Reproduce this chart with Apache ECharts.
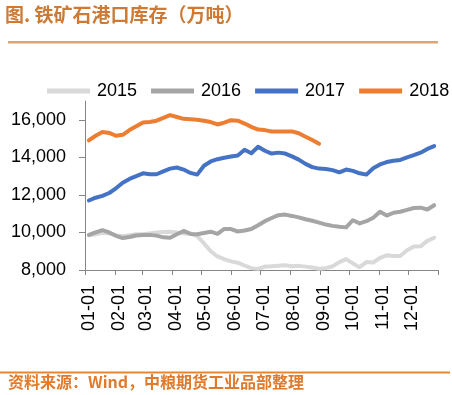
<!DOCTYPE html>
<html>
<head>
<meta charset="utf-8">
<script src="https://cdn.jsdelivr.net/npm/echarts@6/dist/echarts.min.js"></script>
<style>
html,body{margin:0;padding:0;background:#fff;}
#chart{width:452px;height:395px;}
</style>
</head>
<body>
<div id="chart"></div>
<script>
// Weekly observation dates as day-of-year (Jan 1 = 0)
const weekDays = [4,11,18,25,32,39,46,53,60,67,74,81,88,95,102,109,116,123,130,137,144,151,158,165,172,179,186,193,200,207,214,221,228,235,242,249,256,263,270,277,284,291,298,305,312,319,326,333,340,347,354,361];
const monthStartDays = [0,31,59,90,120,151,181,212,243,273,304,334,365];
const monthLabels = ['01-01','02-01','03-01','04-01','05-01','06-01','07-01','08-01','09-01','10-01','11-01','12-01'];
const yTicks = [8000,10000,12000,14000,16000];
const seriesNames = ['2015','2016','2017','2018'];

const v2015 = [9850,9900,9980,9950,9850,9800,9850,9900,9900,9950,10000,10030,10040,10000,9950,9950,9800,9420,9000,8720,8580,8460,8390,8240,8100,8060,8180,8200,8230,8250,8200,8220,8180,8130,8070,8100,8200,8420,8580,8350,8150,8420,8400,8650,8780,8740,8750,9050,9250,9260,9550,9720];
const v2016 = [9870,10000,10120,10000,9820,9700,9760,9840,9860,9870,9830,9740,9720,9900,10080,9920,9900,9970,10040,9920,10190,10180,10050,10100,10180,10380,10600,10770,10920,10950,10880,10800,10700,10620,10520,10420,10350,10300,10270,10650,10480,10600,10780,11100,10900,11050,11100,11200,11300,11320,11220,11450];
const v2017 = [11700,11850,11950,12100,12350,12650,12850,13000,13150,13100,13100,13250,13400,13460,13350,13170,13080,13550,13780,13900,13980,14040,14100,14400,14220,14560,14350,14200,14250,14200,14050,13880,13650,13480,13400,13380,13320,13200,13350,13280,13150,13080,13420,13620,13750,13820,13860,14000,14120,14250,14450,14600];
const v2018 = [14900,15150,15350,15300,15150,15200,15450,15650,15850,15880,15950,16100,16250,16150,16050,16030,16000,15950,15880,15750,15850,15980,15950,15800,15620,15480,15450,15380,15380,15380,15380,15280,15100,14920,14720];

const colors = ['#D9D9D9','#A5A5A5','#4472C4','#ED7D31'];
const values = [v2015, v2016, v2017, v2018];

function pair(vals){ return vals.map((v,i)=>[weekDays[i], v]); }

const chart = echarts.init(document.getElementById('chart'));
const axisFont = {fontFamily:'Liberation Sans', fontSize:18, color:'#000'};
chart.setOption({
  animation:false,
  backgroundColor:'#fff',
  grid:{left:85, right:14, top:101, bottom:125, containLabel:false},
  legend:{
    left:47, top:82, width:405, padding:0,
    orient:'horizontal',
    itemWidth:43, itemHeight:10, itemGap:14,
    data: seriesNames,
    textStyle:{fontFamily:'Liberation Sans', fontSize:18, color:'#000', padding:[0,0,0,2]},
    icon:'path://M0,0 L43,0 L43,5 L0,5 Z'
  },
  xAxis:{
    type:'value', min:0, max:365,
    splitLine:{show:false},
    axisLine:{lineStyle:{color:'#868686', width:1}},
    axisTick:{show:true, length:5, lineStyle:{color:'#868686'}, customValues: monthStartDays},
    axisLabel:{
      rotate:90, margin:15,
      customValues: monthStartDays.slice(0,12).map(d=>d+4),
      formatter:function(v){ const i = monthStartDays.indexOf(v-4); return i>=0 && i<12 ? monthLabels[i] : ''; },
      ...axisFont
    }
  },
  yAxis:{
    type:'value', min:8000, max:17000,
    splitLine:{show:false},
    axisLine:{show:true, lineStyle:{color:'#868686', width:1}},
    axisTick:{show:true, length:6, lineStyle:{color:'#868686'}, customValues: yTicks},
    axisLabel:{
      margin:19,
      customValues: yTicks,
      formatter:function(v){ return v.toLocaleString('en-US'); },
      ...axisFont
    }
  },
  series: seriesNames.map((n,k)=>({
    name:n, type:'line', data:pair(values[k]),
    showSymbol:false, symbol:'none',
    lineStyle:{color:colors[k], width:4, cap:'round', join:'round'},
    itemStyle:{color:colors[k]},
    z: k+2
  })),
  graphic:[
    {type:'text', left:5, top:5, style:{text:'图. 铁矿石港口库存（万吨）', fill:'#CC7A35', font:'bold 19px "Noto Sans CJK SC"'}},
    {type:'rect', shape:{x:8, y:41, width:430, height:2.5}, style:{fill:'#D8A878'}},
    {type:'rect', shape:{x:0, y:371.5, width:450, height:2}, style:{fill:'#E8862E'}},
    {type:'text', left:8, top:374, style:{text:'资料来源：Wind，中粮期货工业品部整理', fill:'#E07A2C', font:'bold 16px "Noto Sans CJK SC"'}}
  ]
});
</script>
</body>
</html>
